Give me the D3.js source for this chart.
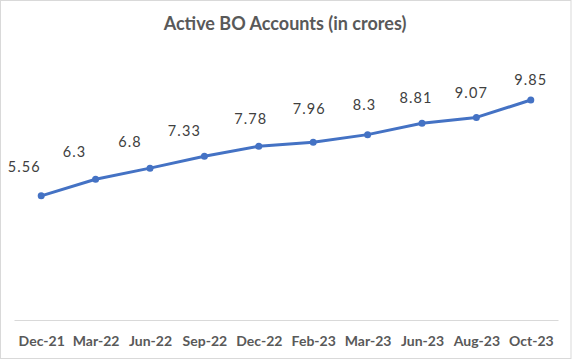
<!DOCTYPE html>
<html lang="en">
<head>
    <meta charset="utf-8">
    <style type="text/css">
        body { margin: 0; background: #fff; }
        .title { font-family: Lato, "Liberation Sans", sans-serif; font-weight: bold; font-size: 18px; fill: #595959; }
        .x-axis text { font-family: Lato, "Liberation Sans", sans-serif; font-weight: bold; font-size: 14px; fill: #595959; }
        .x-axis path { stroke: #d9d9d9; stroke-width: 1px; }
        .label { font-family: Lato, "Liberation Sans", sans-serif; font-size: 14.5px; fill: #404040; letter-spacing: 1.1px; }
        .line { fill: none; stroke: #4472c4; stroke-width: 3px; stroke-linejoin: round; }
        .dot { fill: #4472c4; }
    </style>
</head>
<body>
<svg width="574" height="361"></svg>

<script src="https://d3js.org/d3.v7.min.js" type="text/javascript"></script>

<script type="text/javascript">
    // data
    var categories = ["Dec-21", "Mar-22", "Jun-22", "Sep-22", "Dec-22", "Feb-23", "Mar-23", "Jun-23", "Aug-23", "Oct-23"];
    var values = [5.56, 6.3, 6.8, 7.33, 7.78, 7.96, 8.3, 8.81, 9.07, 9.85];
    var titleText = "Active BO Accounts (in crores)";

    // the labels in the original sit a bit off-centre, nudge them the same way
    var labelNudge = [[-17, -24], [-21, -22], [-20, -21], [-20, -20], [-8, -22],
                      [-4, -28], [-3, -25], [-6, -20], [-5, -19], [0, -15]];

    var svg = d3.select("svg"),
        width = +svg.attr("width"),
        height = +svg.attr("height");

    // chart border
    svg.append("rect")
        .attr("x", 0.5).attr("y", 0.5)
        .attr("width", 570.5).attr("height", 358)
        .attr("fill", "#fff")
        .attr("stroke", "#d9d9d9");

    var x = d3.scalePoint()
        .domain(categories)
        .range([14, 558])
        .padding(0.5);

    var y = d3.scaleLinear()
        .domain([0, 12])
        .range([320, 52]);

    svg.append("text")
        .attr("class", "title")
        .attr("x", 285)
        .attr("y", 30)
        .attr("text-anchor", "middle")
        .text(titleText);

    var xAxis = svg.append("g")
        .attr("class", "x-axis")
        .attr("transform", "translate(0,320)")
        .call(d3.axisBottom(x).tickSize(0).tickSizeOuter(0).tickPadding(16));
    xAxis.selectAll(".tick line").remove();

    var points = categories.map(function (c, i) { return {cat: c, value: values[i], i: i}; });

    var line = d3.line()
        .x(function (d) { return x(d.cat); })
        .y(function (d) { return y(d.value); });

    svg.append("path")
        .datum(points)
        .attr("class", "line")
        .attr("d", line);

    svg.selectAll(".dot")
        .data(points)
        .enter()
        .append("circle")
        .attr("class", "dot")
        .attr("r", 3.5)
        .attr("cx", function (d) { return x(d.cat); })
        .attr("cy", function (d) { return y(d.value); });

    svg.selectAll(".label")
        .data(points)
        .enter()
        .append("text")
        .attr("class", "label")
        .attr("text-anchor", "middle")
        .attr("x", function (d) { return x(d.cat) + labelNudge[d.i][0]; })
        .attr("y", function (d) { return y(d.value) + labelNudge[d.i][1]; })
        .text(function (d) { return d.value; });
</script>

</body>
</html>
